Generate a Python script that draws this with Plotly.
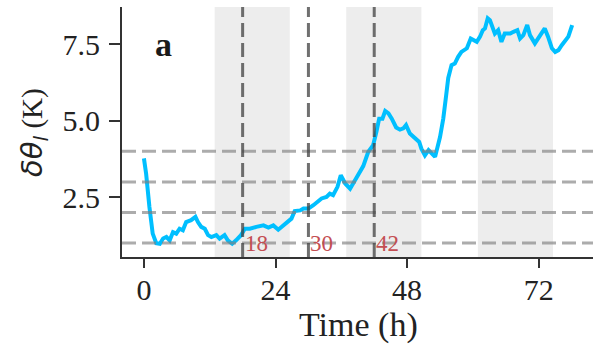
import plotly.graph_objects as go

# ---- data ----
time_h = [0, 0.4, 1.0, 1.6, 2.25, 2.9, 3.5, 4.1, 4.7, 5.3, 5.9, 6.5, 7.1, 7.7, 8.6, 9.4, 9.85,
          10.45, 11.1, 11.7, 12.3, 13.2, 13.8, 14.7, 15.3, 16.1, 16.8, 17.7, 18.4, 19.3, 20.5,
          21.8, 22.7, 23.6, 24.5, 25.4, 26.3, 26.9, 27.5, 28.5, 29.1, 30.0, 30.9, 31.8, 32.4,
          33.3, 33.9, 34.5, 35.3, 35.9, 36.7, 37.6, 38.5, 39.1, 40.0, 40.9, 41.8, 42.4, 42.9,
          43.5, 44.0, 44.6, 45.2, 46.0, 46.7, 47.3, 47.8, 48.5, 49.1, 49.6, 50.2, 50.6, 51.25,
          51.9, 52.6, 53.1, 54.0, 54.6, 55.1, 55.5, 56.1, 56.7, 57.3, 57.9, 58.9, 59.6, 60.1,
          60.7, 61.3, 61.8, 62.2, 62.7, 63.1, 63.6, 64.0, 64.6, 65.2, 65.8, 66.8, 67.4, 68.1,
          68.6, 69.2, 69.9, 70.4, 71.3, 72.1, 73.1, 73.7, 74.4, 75.0, 75.6, 76.2, 76.8, 77.4, 78.1]
dtheta = [3.77, 3.27, 2.18, 1.31, 1.0, 0.98, 1.15, 1.20, 1.09, 1.36, 1.31, 1.47, 1.42, 1.69, 1.75,
          1.86, 1.69, 1.53, 1.47, 1.26, 1.20, 1.26, 1.15, 1.26, 1.09, 0.98, 1.09, 1.26, 1.47, 1.47,
          1.53, 1.58, 1.51, 1.58, 1.44, 1.58, 1.69, 1.80, 2.05, 2.07, 2.13, 2.13, 2.24, 2.35, 2.46,
          2.51, 2.62, 2.57, 2.84, 3.22, 2.95, 2.78, 3.06, 3.22, 3.52, 3.98, 4.2, 4.64, 5.07, 5.07,
          5.32, 5.24, 5.07, 4.78, 4.71, 4.75, 4.86, 4.58, 4.47, 4.39, 4.31, 4.09, 3.87, 4.04, 3.93,
          3.82, 4.47, 5.08, 5.8, 6.4, 6.82, 6.87, 7.09, 7.25, 7.37, 7.69, 7.64, 7.58, 7.75, 7.96,
          8.02, 8.35, 8.29, 8.02, 7.85, 7.96, 7.58, 7.85, 7.85, 7.91, 7.96, 7.69, 7.80, 8.13, 7.80,
          7.53, 7.75, 8.02, 7.75, 7.37, 7.25, 7.31, 7.47, 7.64, 7.75, 8.13]

night_start = [12.9, 36.9, 60.9]
night_end = [26.6, 50.6, 74.6]
threshold_levels = [1, 2, 3, 4]
marker_hours = [18, 30, 42]
marker_labels = ["18", "30", "42"]
x_ticks = [0, 24, 48, 72]
y_ticks = [2.5, 5.0, 7.5]
y_ticklabels = ["2.5", "5.0", "7.5"]

SERIF = "Liberation Serif"

L, T, PW, PH = 122, 7, 471, 250  # plot area in px

fig = go.Figure()

fig.add_trace(go.Scatter(x=time_h, y=dtheta, mode="lines",
                         line=dict(color="#00bfff", width=4), showlegend=False,
                         hoverinfo="skip"))

shapes = []
for s, e in zip(night_start, night_end):
    shapes.append(dict(type="rect", xref="x", yref="paper", x0=s, x1=e, y0=0, y1=1,
                       fillcolor="#ededed", line=dict(width=0), layer="below"))
for lv in threshold_levels:
    shapes.append(dict(type="line", xref="paper", yref="y", x0=0, x1=1, y0=lv, y1=lv,
                       line=dict(color="rgba(128,128,128,0.65)", width=3, dash="14px,6px"),
                       layer="above"))
for h in marker_hours:
    shapes.append(dict(type="line", xref="x", yref="paper", x0=h, x1=h, y0=0, y1=1,
                       line=dict(color="rgba(64,64,64,0.75)", width=3, dash="14px,6px"),
                       layer="above"))

annotations = []
for h, lab in zip(marker_hours, marker_labels):
    annotations.append(dict(x=h, y=1.0, xref="x", yref="y", text=lab, showarrow=False,
                            xanchor="left", yanchor="middle", xshift=0,
                            font=dict(family=SERIF, size=23, color="#c44e52")))

def px_x(p):
    return (p - L) / PW

def px_y(p):
    return (T + PH - p) / PH

annotations.append(dict(x=px_x(163), y=px_y(44), xref="paper", yref="paper",
                        text="<b>a</b>", showarrow=False, xanchor="center", yanchor="middle",
                        font=dict(family=SERIF, size=34, color="#1a1a1a")))
annotations.append(dict(x=px_x(358), y=px_y(325), xref="paper", yref="paper",
                        text="Time (h)", showarrow=False, xanchor="center", yanchor="middle",
                        font=dict(family=SERIF, size=34, color="#222")))
annotations.append(dict(x=px_x(34), y=px_y(133), xref="paper", yref="paper",
                        text='<span style="font-family:DejaVu Sans"><i>δθ</i><sub><i>l</i></sub></span> (K)',
                        showarrow=False, textangle=-90, xanchor="center", yanchor="middle",
                        font=dict(family=SERIF, size=29, color="#222")))

fig.update_layout(
    width=593, height=345,
    margin=dict(l=L, r=593 - L - PW, t=T, b=345 - T - PH),
    paper_bgcolor="white", plot_bgcolor="white",
    shapes=shapes, annotations=annotations,
    xaxis=dict(range=[-4.0, 81.9], tickvals=x_ticks, ticktext=[str(v) for v in x_ticks],
               showgrid=False, zeroline=False, showline=True, linecolor="#333", linewidth=2,
               ticks="outside", ticklen=9, tickwidth=2, tickcolor="#333",
               ticklabelstandoff=-4,
               tickfont=dict(family=SERIF, size=30, color="#222")),
    yaxis=dict(range=[0.546, 8.72], tickvals=y_ticks, ticktext=y_ticklabels,
               showgrid=False, zeroline=False, showline=True, linecolor="#333", linewidth=2,
               ticks="outside", ticklen=11, tickwidth=2, tickcolor="#333",
               ticklabelstandoff=3,
               tickfont=dict(family=SERIF, size=30, color="#222")),
)

fig.write_html("out.html", config={"displayModeBar": False},
               post_script="document.body.style.margin='0';document.body.style.padding='0';")
